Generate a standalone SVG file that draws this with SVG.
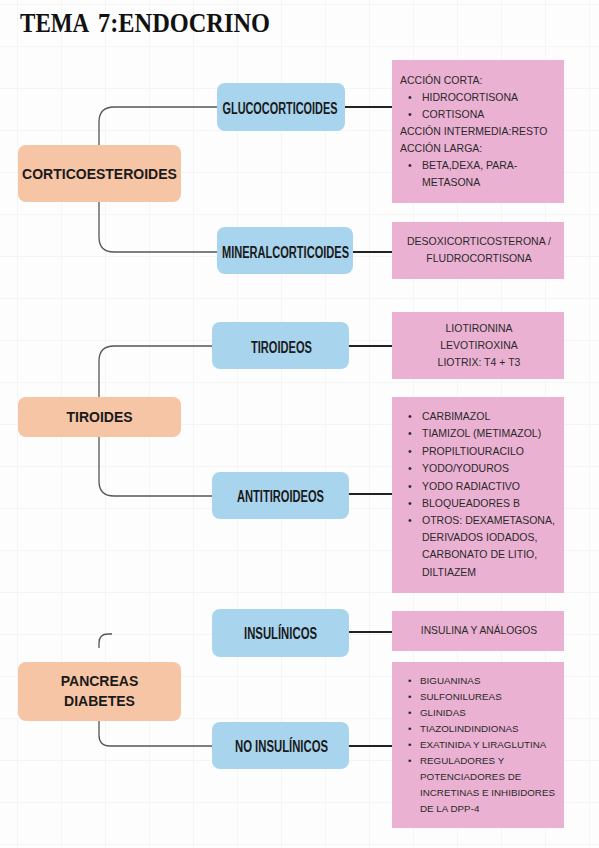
<svg xmlns="http://www.w3.org/2000/svg" width="599" height="848" viewBox="0 0 599 848">
<defs>
<pattern id="grid" x="17" y="4" width="44" height="42" patternUnits="userSpaceOnUse">
<path d="M0,0 V42 M0,0 H44" fill="none" stroke="#eeeeee" stroke-width="1"/>
</pattern>
<style>
.bg{fill:#fdfdfd}
.cat{fill:#f5c5a6}
.sub{fill:#a8d4ee}
.det{fill:#ebb1d3}
.bracket{fill:none;stroke:#555;stroke-width:1.3}
.link{fill:none;stroke:#222;stroke-width:2}
.title{font-family:"Liberation Serif",serif;font-weight:bold;font-size:28px;fill:#111}
.ct{font-family:"Liberation Sans",Arial,sans-serif;font-weight:bold;font-size:14px;fill:#1a1a1a;text-anchor:middle}
.st{font-family:"Liberation Sans",Arial,sans-serif;font-weight:bold;font-size:16px;fill:#1a1a1a;text-anchor:middle}
.dt{font-family:"Liberation Sans",Arial,sans-serif;font-size:10.5px;fill:#2a2a2a}
.ds{font-family:"Liberation Sans",Arial,sans-serif;font-size:9.8px;fill:#2a2a2a}
.mid{text-anchor:middle}
</style>
</defs>
<rect class="bg" x="0" y="0" width="599" height="848"/>
<rect x="0" y="0" width="599" height="848" fill="url(#grid)"/>

<text class="title" y="32"><tspan x="20" textLength="68" lengthAdjust="spacingAndGlyphs">TEMA</tspan> <tspan x="98" textLength="172" lengthAdjust="spacingAndGlyphs">7:ENDOCRINO</tspan></text>

<g id="connectors">
<path class="bracket" d="M99,145 V122 Q99,107 114,107 H217"/>
<path class="bracket" d="M99,202 V237 Q99,252 114,252 H217"/>
<path class="bracket" d="M99,397 V361 Q99,346 114,346 H212"/>
<path class="bracket" d="M99,437 V481 Q99,496 114,496 H212"/>
<path class="bracket" d="M99,648 V643 Q99,634 108,634 H112"/>
<path class="bracket" d="M99,721 V735 Q99,746 110,746 H212"/>
<path class="link" d="M345,107 H392"/>
<path class="link" d="M353,252 H392"/>
<path class="link" d="M349,346 H392"/>
<path class="link" d="M349,494 H392"/>
<path class="link" d="M349,632 H392"/>
<path class="link" d="M349,746 H392"/>
</g>

<g id="corticoesteroides">
<rect class="cat" x="18" y="145" width="163" height="57" rx="8"/>
<text class="ct" x="99.5" y="179">CORTICOESTEROIDES</text>
</g>
<g id="glucocorticoides">
<rect class="sub" x="217" y="83" width="128" height="48" rx="8"/>
<text class="st" x="280" y="114" textLength="115" lengthAdjust="spacingAndGlyphs">GLUCOCORTICOIDES</text>
</g>
<g id="mineralcorticoides">
<rect class="sub" x="217" y="227" width="136" height="47" rx="8"/>
<text class="st" x="285.5" y="258" textLength="127" lengthAdjust="spacingAndGlyphs">MINERALCORTICOIDES</text>
</g>
<g id="gluco-detalle">
<rect class="det" x="392" y="60" width="172" height="143"/>
<text class="dt" x="400" y="84">ACCIÓN CORTA:</text>
<text class="dt" x="408" y="100.5">•</text><text class="dt" x="422" y="100.5">HIDROCORTISONA</text>
<text class="dt" x="408" y="118">•</text><text class="dt" x="422" y="118">CORTISONA</text>
<text class="dt" x="400" y="135">ACCIÓN INTERMEDIA:RESTO</text>
<text class="dt" x="400" y="151.5">ACCIÓN LARGA:</text>
<text class="dt" x="408" y="169">•</text><text class="dt" x="422" y="169">BETA,DEXA, PARA-</text>
<text class="dt" x="422" y="186">METASONA</text>
</g>
<g id="mineral-detalle">
<rect class="det" x="392" y="222" width="172" height="57"/>
<text class="dt mid" x="479" y="245">DESOXICORTICOSTERONA /</text>
<text class="dt mid" x="479" y="262">FLUDROCORTISONA</text>
</g>

<g id="tiroides">
<rect class="cat" x="18" y="397" width="163" height="40" rx="8"/>
<text class="ct" x="99.5" y="422">TIROIDES</text>
</g>
<g id="tiroideos">
<rect class="sub" x="212" y="322" width="137" height="47" rx="8"/>
<text class="st" x="281.5" y="353" textLength="61" lengthAdjust="spacingAndGlyphs">TIROIDEOS</text>
</g>
<g id="antitiroideos">
<rect class="sub" x="212" y="472" width="137" height="47" rx="8"/>
<text class="st" x="280.5" y="502" textLength="87" lengthAdjust="spacingAndGlyphs">ANTITIROIDEOS</text>
</g>
<g id="tiroideos-detalle">
<rect class="det" x="392" y="312" width="172" height="67"/>
<text class="dt mid" x="479" y="332">LIOTIRONINA</text>
<text class="dt mid" x="479" y="349">LEVOTIROXINA</text>
<text class="dt mid" x="479" y="366">LIOTRIX: T4 + T3</text>
</g>
<g id="antitiroideos-detalle">
<rect class="det" x="392" y="397" width="172" height="196"/>
<text class="dt" x="408" y="420">•</text><text class="dt" x="422" y="420">CARBIMAZOL</text>
<text class="dt" x="408" y="437">•</text><text class="dt" x="422" y="437">TIAMIZOL (METIMAZOL)</text>
<text class="dt" x="408" y="455">•</text><text class="dt" x="422" y="455">PROPILTIOURACILO</text>
<text class="dt" x="408" y="472">•</text><text class="dt" x="422" y="472">YODO/YODUROS</text>
<text class="dt" x="408" y="490">•</text><text class="dt" x="422" y="490">YODO RADIACTIVO</text>
<text class="dt" x="408" y="507">•</text><text class="dt" x="422" y="507">BLOQUEADORES B</text>
<text class="dt" x="408" y="524">•</text><text class="dt" x="422" y="524">OTROS: DEXAMETASONA,</text>
<text class="dt" x="422" y="541">DERIVADOS IODADOS,</text>
<text class="dt" x="422" y="558">CARBONATO DE LITIO,</text>
<text class="dt" x="422" y="576">DILTIAZEM</text>
</g>

<g id="pancreas">
<rect class="cat" x="18" y="662" width="163" height="59" rx="8"/>
<text class="ct" x="99.5" y="686">PANCREAS</text>
<text class="ct" x="99.5" y="706">DIABETES</text>
</g>
<g id="insulinicos">
<rect class="sub" x="212" y="609" width="137" height="48" rx="8"/>
<text class="st" x="280.5" y="639" textLength="73" lengthAdjust="spacingAndGlyphs">INSULÍNICOS</text>
</g>
<g id="no-insulinicos">
<rect class="sub" x="212" y="722" width="137" height="47" rx="8"/>
<text class="st" x="281.5" y="752" textLength="93" lengthAdjust="spacingAndGlyphs">NO INSULÍNICOS</text>
</g>
<g id="insulinicos-detalle">
<rect class="det" x="392" y="611" width="172" height="40"/>
<text class="dt mid" x="479" y="634" style="font-size:10.3px">INSULINA Y ANÁLOGOS</text>
</g>
<g id="no-insulinicos-detalle">
<rect class="det" x="392" y="662" width="172" height="166"/>
<text class="ds" x="408" y="683.5">•</text><text class="ds" x="420" y="683.5">BIGUANINAS</text>
<text class="ds" x="408" y="699.5">•</text><text class="ds" x="420" y="699.5">SULFONILUREAS</text>
<text class="ds" x="408" y="715.5">•</text><text class="ds" x="420" y="715.5">GLINIDAS</text>
<text class="ds" x="408" y="731.5">•</text><text class="ds" x="420" y="731.5">TIAZOLINDINDIONAS</text>
<text class="ds" x="408" y="747.5">•</text><text class="ds" x="420" y="747.5">EXATINIDA Y LIRAGLUTINA</text>
<text class="ds" x="408" y="763.5">•</text><text class="ds" x="420" y="763.5">REGULADORES Y</text>
<text class="ds" x="420" y="780">POTENCIADORES DE</text>
<text class="ds" x="420" y="795.5">INCRETINAS E INHIBIDORES</text>
<text class="ds" x="420" y="811.5">DE LA DPP-4</text>
</g>
</svg>
